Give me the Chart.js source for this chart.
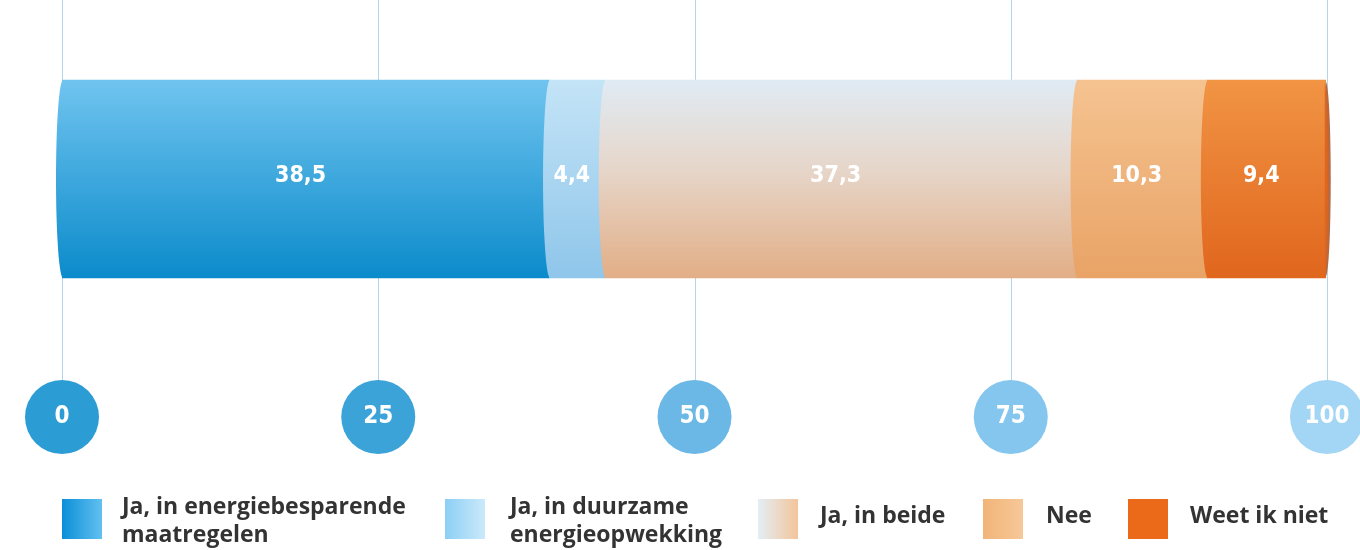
<!DOCTYPE html>
<html lang="nl">
<head>
    <meta charset="UTF-8">
    <title>Investeringen in energie</title>
    <script src="https://cdn.jsdelivr.net/npm/chart.js"></script>
    <style>
        body, html {
            margin: 0;
            padding: 0;
            background: #ffffff;
            overflow: hidden;
        }
        #wrap {
            width: 1360px;
            height: 550px;
            position: relative;
        }
    </style>
</head>
<body>
    <div id="wrap"><canvas id="energyChart"></canvas></div>

    <script>
        const categories = ['Antwoord'];
        const seriesLabels = ['Ja, in energiebesparende maatregelen', 'Ja, in duurzame energieopwekking', 'Ja, in beide', 'Nee', 'Weet ik niet'];
        const legendLines = [['Ja, in energiebesparende', 'maatregelen'], ['Ja, in duurzame', 'energieopwekking'], ['Ja, in beide'], ['Nee'], ['Weet ik niet']];
        const values = [38.5, 4.4, 37.3, 10.3, 9.4];
        const tickValues = [0, 25, 50, 75, 100];

        // top / bottom colour stops for each segment (gives the tube look)
        const segColors = [
            ['#70c4ef', '#0b8bcb'],
            ['#c4e4f7', '#8fc6ea'],
            ['#e0ebf4', '#e2ae86'],
            ['#f5c391', '#e9a366'],
            ['#f19444', '#e0661d']
        ];
        const legendColors = [
            ['#0b8fd8', '#62c0f0'],
            ['#8ccff5', '#cbe9fa'],
            ['#e4eef6', '#f2c59a'],
            ['#f2b478', '#f6c898'],
            ['#ea6a1a', '#ea6a1a']
        ];
        const circleColors = ['#2c9dd4', '#3ba3d8', '#6bb8e6', '#85c6ee', '#a3d5f4'];
        const legendBoxX = [62, 445, 758, 983, 1128];
        const legendTextX = [122, 510, 820, 1046, 1190];

        const barTop = 80, barBottom = 278;

        function vGradient(chart, i) {
            const g = chart.ctx.createLinearGradient(0, barTop, 0, barBottom);
            g.addColorStop(0, segColors[i][0]);
            if (i === 2) g.addColorStop(0.45, '#e6d6ca');
            g.addColorStop(1, segColors[i][1]);
            return g;
        }

        const fmt = v => v.toString().replace('.', ',');

        const tubePlugin = {
            id: 'tube',
            beforeDatasetsDraw(chart) {
                const ctx = chart.ctx;
                const xs = chart.scales.x;
                ctx.save();
                ctx.strokeStyle = '#b3d5ea';
                ctx.lineWidth = 1;
                tickValues.forEach(t => {
                    const px = Math.round(xs.getPixelForValue(t)) + 0.5;
                    ctx.beginPath();
                    ctx.moveTo(px, 0);
                    ctx.lineTo(px, 382);
                    ctx.stroke();
                });
                ctx.restore();
            },
            afterDatasetsDraw(chart) {
                const ctx = chart.ctx;
                ctx.save();
                // curved left edges of every segment
                chart.data.datasets.forEach((ds, i) => {
                    const el = chart.getDatasetMeta(i).data[0];
                    const h = el.height / 2;
                    ctx.fillStyle = vGradient(chart, i);
                    ctx.beginPath();
                    ctx.ellipse(el.base + 1, el.y, 7, h, 0, Math.PI / 2, Math.PI * 1.5);
                    ctx.closePath();
                    ctx.fill();
                });
                // end cap on the right
                const last = chart.getDatasetMeta(values.length - 1).data[0];
                ctx.fillStyle = '#b8693f';
                ctx.beginPath();
                ctx.ellipse(last.x, last.y, 5, last.height / 2 - 2, 0, -Math.PI / 2, Math.PI / 2);
                ctx.closePath();
                ctx.fill();
                ctx.fillStyle = segColors[4][1];
                ctx.beginPath();
                ctx.ellipse(last.x - 1, last.y, 3, last.height / 2 - 4, 0, -Math.PI / 2, Math.PI / 2);
                ctx.fill();

                // value labels
                ctx.fillStyle = '#ffffff';
                ctx.font = 'bold 23px "DejaVu Sans Condensed", "DejaVu Sans", sans-serif';
                ctx.textAlign = 'center';
                ctx.textBaseline = 'middle';
                chart.data.datasets.forEach((ds, i) => {
                    const el = chart.getDatasetMeta(i).data[0];
                    ctx.fillText(fmt(ds.data[0]), (el.base + el.x) / 2 - 5, el.y - 3);
                });
                ctx.restore();
            },
            afterDraw(chart) {
                const ctx = chart.ctx;
                const xs = chart.scales.x;
                ctx.save();
                // tick bubbles
                tickValues.forEach((t, i) => {
                    const px = xs.getPixelForValue(t);
                    ctx.fillStyle = circleColors[i];
                    ctx.beginPath();
                    ctx.arc(px, 417, 37, 0, Math.PI * 2);
                    ctx.fill();
                    ctx.fillStyle = '#ffffff';
                    ctx.font = 'bold 24px "DejaVu Sans Condensed", "DejaVu Sans", sans-serif';
                    ctx.textAlign = 'center';
                    ctx.textBaseline = 'middle';
                    ctx.fillText(String(t), px, 417);
                });
                // legend
                legendLines.forEach((lines, i) => {
                    const x = legendBoxX[i];
                    const g = ctx.createLinearGradient(x, 0, x + 40, 0);
                    g.addColorStop(0, legendColors[i][0]);
                    g.addColorStop(1, legendColors[i][1]);
                    ctx.fillStyle = g;
                    ctx.fillRect(x, 499, 40, 40);
                    ctx.fillStyle = '#333333';
                    ctx.font = 'bold 23px "Open Sans", sans-serif';
                    ctx.textAlign = 'left';
                    ctx.textBaseline = 'middle';
                    const tx = legendTextX[i];
                    if (lines.length === 1) {
                        ctx.fillText(lines[0], tx, 516);
                    } else {
                        ctx.fillText(lines[0], tx, 507);
                        ctx.fillText(lines[1], tx, 535);
                    }
                });
                ctx.restore();
            }
        };

        const ctxEnergy = document.getElementById('energyChart').getContext('2d');
        new Chart(ctxEnergy, {
            type: 'bar',
            data: {
                labels: categories,
                datasets: values.map((v, i) => ({
                    label: seriesLabels[i],
                    data: [v],
                    backgroundColor: (c) => vGradient(c.chart, i),
                    borderWidth: 0,
                    barThickness: barBottom - barTop
                }))
            },
            options: {
                indexAxis: 'y',
                responsive: true,
                maintainAspectRatio: false,
                animation: false,
                layout: { padding: { left: 62, right: 33, top: 0, bottom: 192 } },
                scales: {
                    x: { stacked: true, min: 0, max: 100, display: false },
                    y: { stacked: true, display: false }
                },
                plugins: {
                    legend: { display: false },
                    tooltip: { enabled: false }
                }
            },
            plugins: [tubePlugin]
        });
    </script>
</body>
</html>
